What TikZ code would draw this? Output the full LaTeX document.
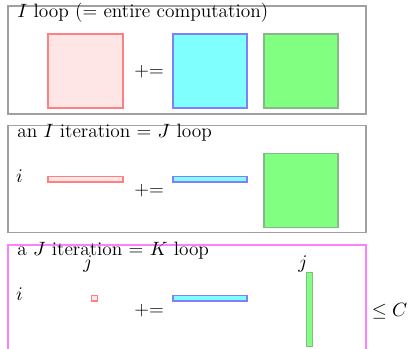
\documentclass[tikz,border=0pt]{standalone}
\usepackage{amsmath,amssymb}
\definecolor{aline}{RGB}{255,128,128}
\definecolor{afill}{RGB}{255,230,230}
\definecolor{bline}{RGB}{128,128,255}
\definecolor{bfill}{RGB}{128,255,255}
\definecolor{cline}{RGB}{136,184,136}
\definecolor{cfill}{RGB}{128,255,128}
\definecolor{fline}{RGB}{160,160,160}
\definecolor{mline}{RGB}{255,128,255}
\begin{document}
\begin{tikzpicture}[
  font=\fontsize{11}{13}\selectfont,
  frame/.style={draw=fline, semithick},
  aarr/.style={draw=aline, fill=afill, semithick},
  barr/.style={draw=bline, fill=bfill, semithick},
  carr/.style={draw=cline, fill=cfill, semithick},
  title/.style={anchor=base west, inner sep=0pt},
  lab/.style={anchor=base, inner sep=0pt}
  ]
  \useasboundingbox (0,0) rectangle (8.16,6.98);
  \clip (0,0) rectangle (8.16,6.98);
  % whole computation
  \draw[frame] (0.16,4.70) rectangle (7.32,6.86);
  \node[title] (t1) at (0.34,6.62) {$I$ loop (= entire computation)};
  \draw[aarr] (0.96,4.82) rectangle (2.46,6.30);
  \node (pe1) at (2.98,5.54) {+=};
  \draw[barr] (3.46,4.82) rectangle (4.94,6.30);
  \draw[carr] (5.28,4.82) rectangle (6.76,6.30);
  % one I iteration
  \draw[frame] (0.16,2.33) rectangle (7.32,4.47);
  \node[title] (t2) at (0.34,4.23) {an $I$ iteration = $J$ loop};
  \node[lab] (i2) at (0.39,3.33) {$i$};
  \draw[aarr] (0.96,3.34) rectangle (2.46,3.45);
  \node (pe2) at (2.98,3.16) {+=};
  \draw[barr] (3.46,3.34) rectangle (4.94,3.45);
  \draw[carr] (5.28,2.43) rectangle (6.76,3.91);
  % one J iteration
  \draw[frame, draw=mline] (0.16,-0.06) rectangle (7.32,2.08);
  \node[title] (t3) at (0.34,1.87) {a $J$ iteration = $K$ loop};
  \node[lab] (j1) at (1.76,1.61) {$j$};
  \node[lab] (j2) at (6.06,1.61) {$j$};
  \node[lab] (i3) at (0.39,0.96) {$i$};
  \draw[aarr] (1.83,0.96) rectangle (1.95,1.07);
  \node (pe3) at (2.98,0.76) {+=};
  \draw[barr] (3.46,0.96) rectangle (4.94,1.07);
  \draw[carr] (6.13,0.05) rectangle (6.25,1.53);
  \node (le) at (7.79,0.76) {$\le C$};
\end{tikzpicture}
\end{document}
